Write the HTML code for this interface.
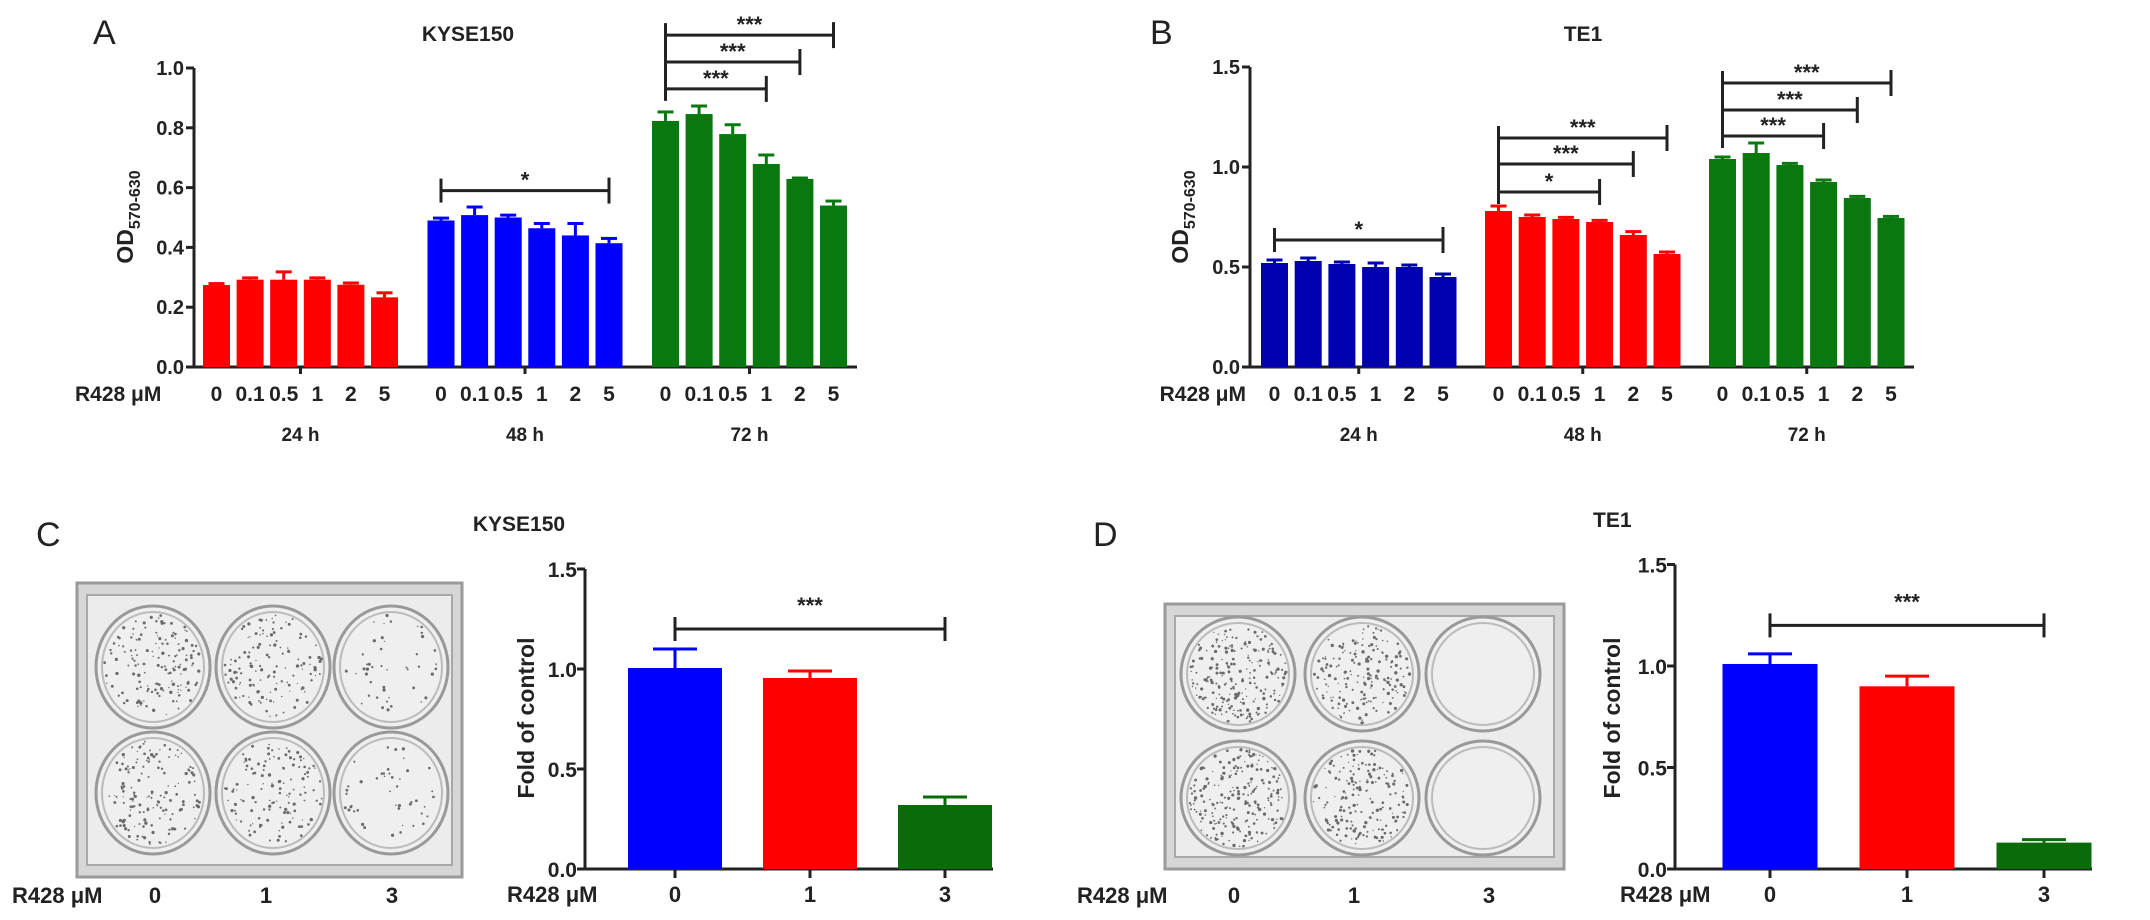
<!DOCTYPE html>
<html><head><meta charset="utf-8"><style>
html,body{margin:0;padding:0;background:#fff;}
svg{display:block;font-family:"Liberation Sans",Arial,sans-serif;}
.b{font-weight:bold;fill:#222;}
</style></head><body>
<svg id="fig" width="2150" height="920" viewBox="0 0 2150 920" xmlns="http://www.w3.org/2000/svg"></svg>
<script>
// ---------- DATA ----------
const doses = ["0","0.1","0.5","1","2","5"];
const times = ["24 h","48 h","72 h"];
const ticksA = [0,0.2,0.4,0.6,0.8,1.0];
const ticksAL = ["0.0","0.2","0.4","0.6","0.8","1.0"];
const ticksB = [0,0.5,1.0,1.5];
const ticksBL = ["0.0","0.5","1.0","1.5"];
const a24 = [0.274,0.292,0.292,0.292,0.275,0.233];
const a48 = [0.49,0.508,0.50,0.464,0.44,0.414];
const a72 = [0.823,0.846,0.779,0.679,0.629,0.54];
const a24e = [0.005,0.006,0.026,0.006,0.006,0.015];
const a48e = [0.008,0.027,0.008,0.016,0.04,0.016];
const a72e = [0.03,0.027,0.031,0.03,0.003,0.015];
const b24 = [0.52,0.53,0.515,0.50,0.50,0.45];
const b48 = [0.78,0.75,0.74,0.725,0.66,0.565];
const b72 = [1.04,1.07,1.01,0.925,0.845,0.745];
const b24e = [0.015,0.015,0.01,0.02,0.01,0.015];
const b48e = [0.025,0.01,0.008,0.008,0.017,0.01];
const b72e = [0.01,0.05,0.008,0.01,0.008,0.008];
const cCats = ["0","1","3"];
const cVals = [1.005,0.955,0.32];
const cErr = [0.095,0.035,0.04];
const dVals = [1.01,0.90,0.13];
const dErr = [0.05,0.05,0.015];

const NS="http://www.w3.org/2000/svg";
const svg=document.getElementById('fig');
function el(tag,attrs,parent,text){const e=document.createElementNS(NS,tag);for(const k in attrs)e.setAttribute(k,attrs[k]);if(text!==undefined)e.textContent=text;(parent||svg).appendChild(e);return e;}

function txt(x,y,s,size,anchor,name,bold=true,parent){
  const t=el('text',{x:x,y:y,'font-size':size,'text-anchor':anchor||'middle',class:bold?'b':''},parent,s);
  if(!bold)t.setAttribute('fill','#222');
  
  
  return t;
}

// ---------- grouped panel ----------
function groupedPanel(p){
  const g=el('g',{});
  
  
  const yS=v=>p.y0-v*p.scale;
  const xB=(gi,i)=>p.start+gi*p.gpitch+i*p.pitch;
  el('line',{x1:p.x0,y1:p.y0,x2:p.x0,y2:yS(p.ticks[p.ticks.length-1]),stroke:'#222','stroke-width':3},g);
  el('line',{x1:p.x0,y1:p.y0,x2:p.xend,y2:p.y0,stroke:'#222','stroke-width':3},g);
  p.ticks.forEach((t,i)=>{
    el('line',{x1:p.x0-8,y1:yS(t),x2:p.x0,y2:yS(t),stroke:'#222','stroke-width':3},g);
    txt(p.x0-10,yS(t)+7,p.tickL[i],20,'end','y-tick-label',true,g);
  });
  p.series.forEach((vals,gi)=>{
    const errs=p.errs[gi];
    vals.forEach((v,i)=>{
      const x=xB(gi,i);
      const r=el('rect',{x:x,y:yS(v),width:p.bw,height:v*p.scale,fill:p.colors[gi]},g);
      
      
      const cx=x+p.bw/2, te=yS(v+errs[i]);
      el('line',{x1:cx,y1:yS(v),x2:cx,y2:te,stroke:p.colors[gi],'stroke-width':3},g);
      el('line',{x1:cx-8,y1:te,x2:cx+8,y2:te,stroke:p.colors[gi],'stroke-width':3},g);
      txt(cx,401,doses[i],21,'middle','dose-label',true,g);
    });
    const gc=xB(gi,0)+(5*p.pitch+p.bw)/2;
    el('line',{x1:gc,y1:p.y0,x2:gc,y2:p.y0+7,stroke:'#222','stroke-width':3},g);
    txt(gc,441,times[gi],19,'middle','time-label',true,g);
  });
  p.brackets.forEach(br=>{
    const x1=xB(br.g,br.from)+p.bw/2, x2=xB(br.g,br.to)+p.bw/2, y=yS(br.y);
    el('line',{x1:x1,y1:y,x2:x2,y2:y,stroke:'#222','stroke-width':3},g);
    el('line',{x1:x2,y1:y-13,x2:x2,y2:y+13,stroke:'#222','stroke-width':3},g);
    txt((x1+x2)/2,y-3,br.label,22,'middle','significance-stars',true,g);
  });
  p.leftTicks.forEach(lt=>{
    const x=xB(lt.g,0)+p.bw/2;
    el('line',{x1:x,y1:yS(lt.top)-12,x2:x,y2:yS(lt.bot)+12,stroke:'#222','stroke-width':3},g);
  });
  const yl=el('text',{transform:`translate(${p.ylx},217) rotate(-90)`,'font-size':23,'text-anchor':'middle',class:'b'},g);
  
  yl.innerHTML='OD<tspan font-size="16" dy="7">570-630</tspan>';
  txt(p.rx,401,'R428 μM',21,p.ranchor,'x-axis-title',true,g);
  txt(p.tx,41,p.title,21,'middle','panel-title',true,g);
  txt(p.lx,44,p.letter,34,'start','panel-letter',false,g);
}

groupedPanel({name:'panel-a-chart',x0:194,y0:367,scale:299,xend:857,start:203,gpitch:224.5,pitch:33.6,bw:27,
  ticks:ticksA,tickL:ticksAL,series:[a24,a48,a72],errs:[a24e,a48e,a72e],colors:['#ff0000','#0000ff','#08780f'],
  brackets:[{g:1,from:0,to:5,y:0.59,label:'*'},{g:2,from:0,to:3,y:0.93,label:'***'},{g:2,from:0,to:4,y:1.02,label:'***'},{g:2,from:0,to:5,y:1.11,label:'***'}],
  leftTicks:[{g:1,top:0.59,bot:0.59},{g:2,top:1.11,bot:0.93}],
  ylx:133,rx:75,ranchor:'start',tx:468,title:'KYSE150',lx:93,letter:'A'});
groupedPanel({name:'panel-b-chart',x0:1250,y0:367,scale:200,xend:1914,start:1261,gpitch:224,pitch:33.7,bw:27,
  ticks:ticksB,tickL:ticksBL,series:[b24,b48,b72],errs:[b24e,b48e,b72e],colors:['#0000b0','#ff0000','#08780f'],
  brackets:[{g:0,from:0,to:5,y:0.635,label:'*'},{g:1,from:0,to:3,y:0.875,label:'*'},{g:1,from:0,to:4,y:1.015,label:'***'},{g:1,from:0,to:5,y:1.145,label:'***'},{g:2,from:0,to:3,y:1.155,label:'***'},{g:2,from:0,to:4,y:1.285,label:'***'},{g:2,from:0,to:5,y:1.42,label:'***'}],
  leftTicks:[{g:0,top:0.635,bot:0.635},{g:1,top:1.145,bot:0.875},{g:2,top:1.42,bot:1.155}],
  ylx:1188,rx:1246,ranchor:'end',tx:1583,title:'TE1',lx:1150,letter:'B'});

// ---------- simple panels ----------
function simplePanel(p){
  const g=el('g',{});
  
  
  const yS=v=>p.y0-v*p.scale;
  const xC=i=>p.c0+i*p.pitch;
  el('line',{x1:p.x0,y1:p.y0,x2:p.x0,y2:yS(1.5),stroke:'#222','stroke-width':3},g);
  el('line',{x1:p.x0-8,y1:p.y0,x2:p.xend,y2:p.y0,stroke:'#222','stroke-width':3},g);
  ticksB.forEach((t,i)=>{
    el('line',{x1:p.x0-8,y1:yS(t),x2:p.x0,y2:yS(t),stroke:'#222','stroke-width':3},g);
    txt(p.x0-8,yS(t)+8,ticksBL[i],21,'end','y-tick-label',true,g);
  });
  const cols=['#0000ff','#ff0000','#0a6b0a'];
  p.vals.forEach((v,i)=>{
    const cx=xC(i);
    const r=el('rect',{x:cx-p.bw/2,y:yS(v),width:p.bw,height:v*p.scale,fill:cols[i]},g);
    
    
    const te=yS(v+p.errs[i]);
    el('line',{x1:cx,y1:yS(v),x2:cx,y2:te,stroke:cols[i],'stroke-width':3},g);
    el('line',{x1:cx-22,y1:te,x2:cx+22,y2:te,stroke:cols[i],'stroke-width':3},g);
    el('line',{x1:cx,y1:p.y0,x2:cx,y2:p.y0+9,stroke:'#222','stroke-width':3},g);
    txt(cx,902,cCats[i],22,'middle','x-tick-label',true,g);
  });
  const x1=xC(0),x2=xC(2),by=yS(1.2);
  el('line',{x1:x1,y1:by,x2:x2,y2:by,stroke:'#222','stroke-width':3},g);
  el('line',{x1:x1,y1:by-12,x2:x1,y2:by+12,stroke:'#222','stroke-width':3},g);
  el('line',{x1:x2,y1:by-12,x2:x2,y2:by+12,stroke:'#222','stroke-width':3},g);
  txt((x1+x2)/2,by-16,'***',22,'middle','significance-stars',true,g);
  const yl=el('text',{transform:`translate(${p.ylx},718) rotate(-90)`,'font-size':23,'text-anchor':'middle',class:'b'},g,'Fold of control');
  
  txt(p.rx,902,'R428 μM',22,'start','x-axis-title',true,g);
}
simplePanel({name:'panel-c-chart',x0:585,y0:869,scale:200,xend:993,c0:675,pitch:135,bw:94,vals:cVals,errs:cErr,ylx:534,rx:507});
simplePanel({name:'panel-d-chart',x0:1675,y0:869,scale:203,xend:2092,c0:1770,pitch:137,bw:95,vals:dVals,errs:dErr,ylx:1620,rx:1620});

// ---------- plates (photos) ----------
let seed=7;function rnd(){seed=(seed*1103515245+12345)%2147483648;return seed/2147483648;}
function plate(p){
  const g=el('g',{});
  
  
  el('rect',{x:p.x,y:p.y,width:p.w,height:p.h,fill:'#d6d6d6',stroke:'#9a9a9a','stroke-width':3},g);
  el('rect',{x:p.x+10,y:p.y+12,width:p.w-20,height:p.h-24,fill:'#ececec',stroke:'#a8a8a8','stroke-width':2},g);
  p.cx.forEach((cx,ci)=>p.cy.forEach(cy=>{
    const w=el('ellipse',{cx:cx,cy:cy,rx:p.r,ry:p.ry,fill:'#efefef',stroke:'#999','stroke-width':3},g);
    
    
    el('ellipse',{cx:cx,cy:cy,rx:p.r-6,ry:p.ry-6,fill:'none',stroke:'#bbb','stroke-width':2},g);
    const n=p.dens[ci];
    for(let k=0;k<n;k++){
      const a=rnd()*Math.PI*2, rr=Math.sqrt(rnd())*(p.r-8);
      el('circle',{cx:cx+Math.cos(a)*rr,cy:cy+Math.sin(a)*rr*p.ry/p.r,r:0.6+rnd()*1.1,fill:'#6a6a6a'},g);
    }
  }));
  txt(p.lx,903,'R428 μM',22,'start','plate-dose-title',true,g);
  cCats.forEach((c,i)=>txt(p.labx[i],903,c,22,'middle','plate-dose-label',true,g));
}
plate({name:'panel-c-plate',x:77,y:583,w:385,h:294,cx:[153,273,391],cy:[667,793],r:57,ry:61,dens:[150,130,45],lx:12,labx:[155,266,392]});
plate({name:'panel-d-plate',x:1165,y:604,w:399,h:265,cx:[1238,1362,1483],cy:[674,798],r:57,ry:57,dens:[230,180,0],lx:1077,labx:[1234,1354,1489]});

txt(36,546,'C',34,'start','panel-letter',false);
txt(1093,546,'D',34,'start','panel-letter',false);
txt(519,531,'KYSE150',21,'middle','panel-title');
txt(1593,527,'TE1',21,'start','panel-title');
</script>
</body></html>
